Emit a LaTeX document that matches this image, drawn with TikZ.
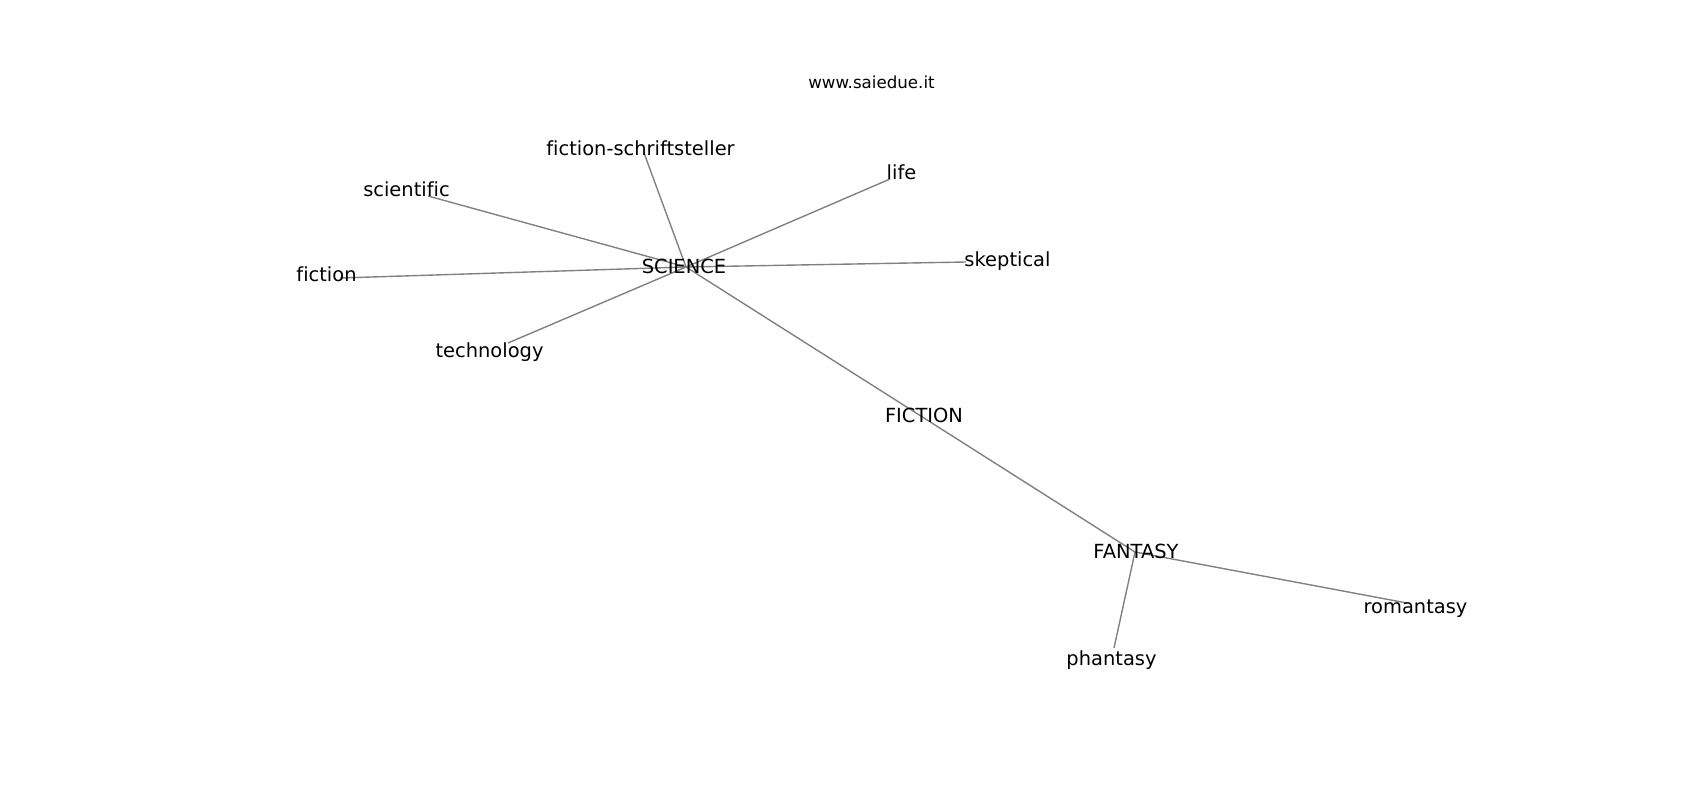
\documentclass[tikz,border=0pt]{standalone}
\usepackage{fontspec}
\setmainfont{DejaVu Sans}[Ligatures=NoCommon]
\usetikzlibrary{positioning}

\begin{document}
\begin{tikzpicture}[x=0.72pt,y=-0.72pt,every node/.style={anchor=base,inner sep=0pt,font=\fontsize{14}{16}\selectfont},edge/.style={draw=gray,line width=1pt}]
    \useasboundingbox (0,0) rectangle (1700,800);
    % graph points
    \coordinate (p-sci) at (686,267);
    \coordinate (p-fs) at (644,153);
    \coordinate (p-scf) at (428,196);
    \coordinate (p-fic) at (340,278);
    \coordinate (p-tec) at (508,343);
    \coordinate (p-life) at (890,179);
    \coordinate (p-skep) at (966,262);
    \coordinate (p-FIC) at (924,418);
    \coordinate (p-fan) at (1135,552);
    \coordinate (p-rom) at (1407,603);
    \coordinate (p-pha) at (1114,648);
    \foreach \t in {fs,scf,fic,tec,life,skep,FIC} {
        \draw[edge] (p-sci) -- (p-\t);
    }
    \draw[edge] (p-FIC) -- (p-fan);
    \foreach \t in {rom,pha} {
        \draw[edge] (p-fan) -- (p-\t);
    }
    \node (sci) at (684,273.5) {SCIENCE};
    \node (fs) at (640.5,155.5) {fiction-schriftsteller};
    \node (scf) at (406.5,196.5) {scientific};
    \node (fic) at (326.5,281.5) {fiction};
    \node (tec) at (489.5,357) {technology};
    \node (life) at (901.5,179.5) {life};
    \node (skep) at (1007.5,266) {skeptical};
    \node (FIC) at (924,422.5) {FICTION};
    \node (fan) at (1136,558.5) {FANTASY};
    \node (rom) at (1415.5,613.5) {romantasy};
    \node (pha) at (1111.5,665) {phantasy};
    \node[font=\fontsize{12}{14}\selectfont] (www) at (871.5,88.5) {www.saiedue.it};
\end{tikzpicture}
\end{document}
